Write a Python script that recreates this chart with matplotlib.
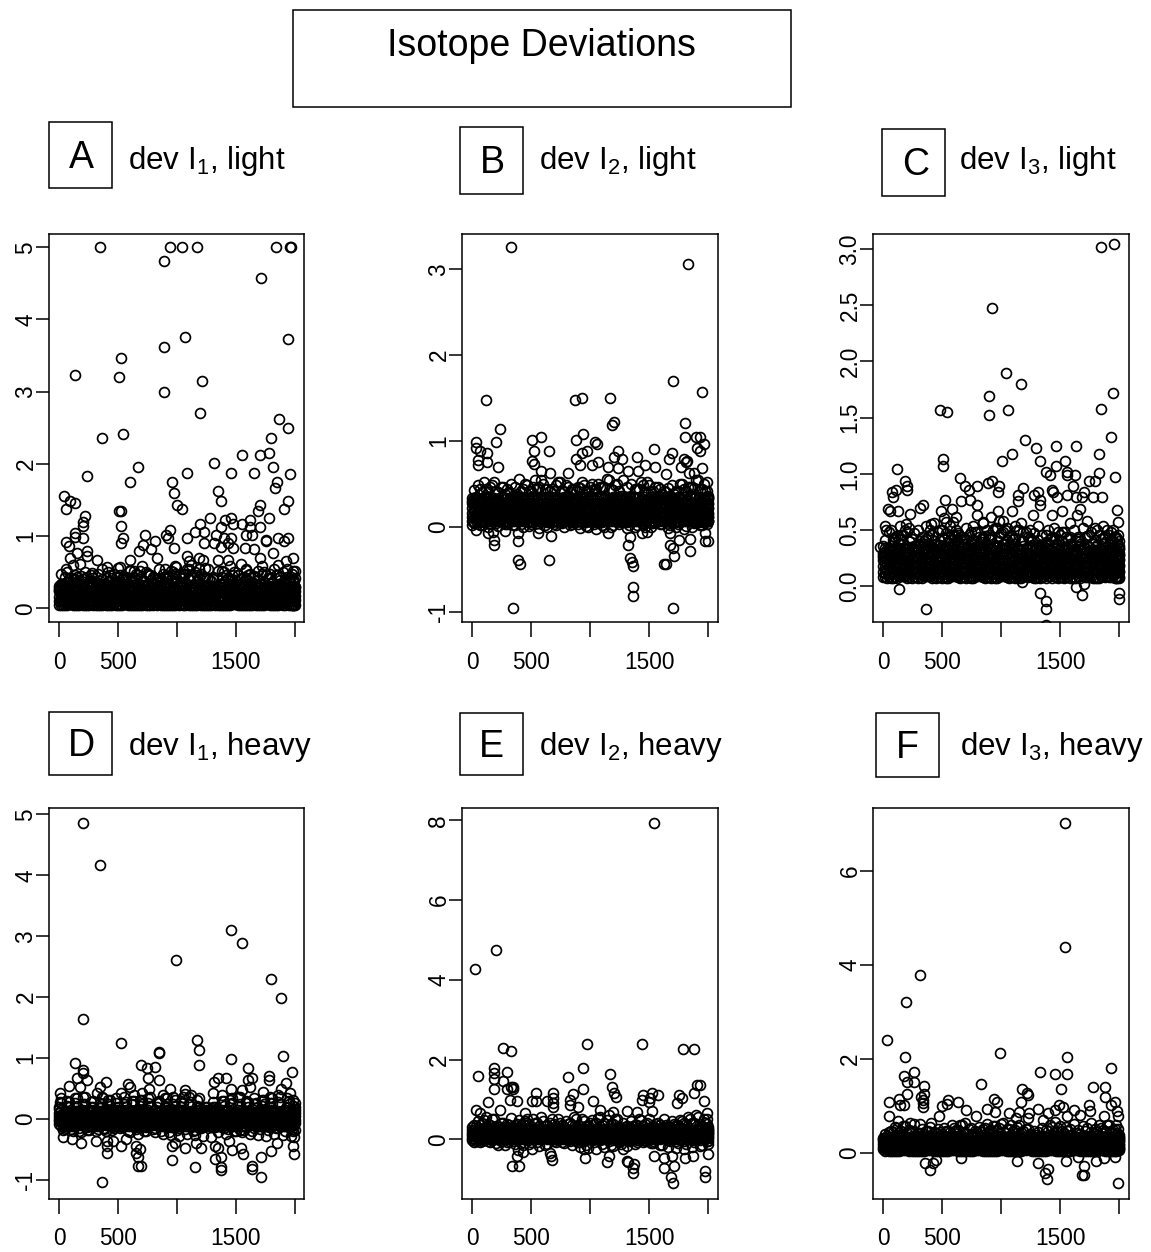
import matplotlib
matplotlib.use("Agg")
import matplotlib.pyplot as plt
from matplotlib.patches import Rectangle

plt.rcParams['font.family'] = ['Liberation Sans', 'DejaVu Sans']
plt.rcParams['mathtext.fontset'] = 'custom'
plt.rcParams['mathtext.rm'] = 'Liberation Sans'
plt.rcParams['mathtext.default'] = 'regular'

X_EVEN = [0,69,138,207,276,345,414,483,552,621,690,759,828,897,966,1035,1104,1173,1242,1311,1380,1449,1518,1587,1656,1725,1794,1863,1932,2000]
X_ODD = [35,104,173,242,311,380,449,518,587,656,725,794,863,932,1001,1070,1139,1208,1277,1346,1415,1484,1553,1622,1691,1760,1829,1898,1967,1996]
X_C = [17,86,155,224,293,362,431,500,569,638,707,776,845,914,983,1052,1121,1190,1259,1328,1397,1466,1535,1604,1673,1742,1811,1880,1949,1985]
X_D = [52,121,190,259,328,397,466,535,604,673,742,811,880,949,1018,1087,1156,1225,1294,1363,1432,1501,1570,1639,1708,1777,1846,1915,1975,1990]

A_BAND = [
 [.05,.04,.05,.04,.06,.05,.04,.05,.06,.04,.05,.04,.05,.05,.04,.06,.05,.04,.05,.06,.04,.05,.05,.04,.06,.05,.04,.05,.06,.05],
 [.10,.11,.09,.12,.10,.09,.11,.12,.10,.09,.11,.10,.12,.09,.11,.10,.12,.09,.11,.10,.12,.09,.11,.12,.10,.11,.09,.12,.10,.11],
 [.16,.15,.17,.15,.18,.16,.15,.17,.16,.18,.15,.17,.16,.15,.18,.16,.17,.15,.18,.16,.15,.17,.18,.16,.15,.17,.18,.16,.15,.17],
 [.24,.22,.25,.21,.23,.22,.24,.21,.23,.25,.22,.24,.21,.23,.25,.22,.24,.23,.21,.25,.22,.24,.25,.22,.24,.26,.23,.25,.22,.24],
 [.31,.30,.29,.28,.31,.30,.28,.29,.31,.30,.29,.31,.28,.30,.29,.31,.30,.32,.29,.31,.33,.30,.32,.31,.34,.32,.31,.33,.32,.30],
]
A_FRINGE = [
 [.28,.36,.40,.33,.38,.34,.37,.35,.39,.36,.40,.34,.41,.37,.42,.36,.40,.38,.43,.40,.44,.38,.46,.42,.45,.48,.42,.46,.44,.30],
 [.34,.42,.38,.44,.36,.30,.42,.46,.35,.48,.38,.44,.40,.45,.36,.47,.42,.48,.41,.52,.46,.50,.42,.48,.52,.46,.55,.50,.44,.38],
 [.26,.50,.46,.40,.46,.38,.50,.36,.44,.40,.52,.48,.36,.44,.50,.42,.54,.46,.56,.44,.52,.58,.46,.54,.44,.58,.48,.60,.54,.42],
]
B_BAND = [
 [.06,.05,.07,.06,.05,.06,.07,.05,.06,.07,.06,.05,.07,.06,.05,.07,.05,.06,.07,.05,.06,.07,.05,.06,.07,.05,.06,.07,.05,.06],
 [.11,.12,.10,.12,.11,.10,.12,.11,.10,.12,.11,.12,.10,.11,.12,.10,.11,.12,.10,.11,.12,.10,.11,.12,.10,.11,.12,.10,.12,.11],
 [.16,.17,.15,.18,.16,.17,.15,.18,.17,.16,.18,.15,.17,.16,.18,.17,.15,.18,.16,.17,.15,.18,.16,.17,.18,.15,.17,.16,.18,.15],
 [.22,.21,.23,.20,.22,.21,.23,.22,.20,.23,.21,.22,.23,.21,.20,.22,.23,.21,.22,.20,.23,.21,.22,.23,.20,.22,.21,.23,.20,.22],
 [.28,.26,.27,.28,.26,.27,.25,.28,.27,.26,.28,.27,.26,.28,.27,.25,.28,.26,.27,.28,.26,.27,.28,.26,.27,.28,.26,.27,.28,.26],
 [.33,.32,.34,.31,.33,.32,.34,.33,.31,.34,.32,.33,.35,.32,.34,.33,.35,.32,.34,.33,.35,.32,.34,.33,.35,.32,.34,.33,.35,.32],
]
B_FRINGE = [
 [.30,.44,.40,.42,.38,.36,.42,.41,.45,.44,.42,.43,.40,.46,.40,.44,.46,.44,.42,.46,.44,.48,.40,.44,.45,.42,.44,.46,.43,.36],
 [.34,.52,.48,.46,.40,.38,.50,.46,.54,.42,.52,.48,.44,.52,.46,.50,.56,.48,.54,.50,.44,.52,.46,.42,.48,.50,.46,.54,.50,.34],
 [.02,.02,.00,.04,.03,.02,.03,.01,.04,.02,.03,.04,.02,.03,.01,.03,.02,.00,.03,-.02,-.01,.02,.00,.03,-.02,.00,-.03,-.01,.02,.06],
]
C_BAND = [
 [.08,.07,.09,.07,.08,.09,.07,.08,.07,.09,.08,.07,.09,.08,.07,.09,.08,.07,.09,.08,.07,.09,.08,.07,.09,.08,.07,.09,.08,.07],
 [.13,.12,.14,.13,.12,.14,.13,.12,.14,.13,.12,.14,.13,.12,.14,.13,.12,.14,.13,.12,.14,.13,.12,.14,.13,.12,.14,.13,.12,.14],
 [.18,.17,.19,.18,.17,.19,.18,.17,.19,.18,.17,.19,.18,.17,.19,.18,.17,.19,.18,.17,.19,.18,.17,.19,.18,.17,.19,.18,.17,.19],
 [.23,.22,.24,.23,.22,.24,.23,.22,.24,.23,.22,.24,.23,.22,.24,.23,.22,.24,.23,.22,.24,.23,.22,.24,.23,.22,.24,.23,.22,.24],
 [.28,.27,.26,.28,.27,.29,.28,.27,.29,.28,.30,.27,.29,.28,.30,.29,.28,.30,.29,.31,.28,.30,.29,.31,.30,.28,.31,.29,.30,.28],
 [.30,.33,.31,.30,.32,.33,.31,.34,.32,.33,.35,.32,.34,.33,.35,.34,.36,.33,.35,.37,.34,.36,.35,.38,.36,.37,.35,.38,.34,.33],
]
C_FRINGE = [
 [.26,.36,.38,.34,.36,.38,.35,.37,.39,.40,.38,.41,.39,.42,.40,.38,.42,.40,.43,.41,.39,.42,.40,.44,.42,.45,.41,.43,.40,.34],
 [.30,.44,.46,.42,.40,.44,.38,.42,.46,.44,.46,.48,.45,.50,.47,.44,.50,.48,.47,.46,.42,.48,.44,.50,.52,.48,.46,.50,.44,.36],
 [.36,.50,.42,.48,.36,.40,.46,.50,.44,.50,.42,.54,.42,.46,.52,.50,.42,.56,.50,.54,.46,.52,.48,.56,.44,.58,.52,.54,.48,.40],
]
D_BAND = [
 [-.08,-.11,-.12,-.10,-.12,-.11,-.10,-.12,-.11,-.10,-.12,-.11,-.10,-.12,-.11,-.10,-.12,-.11,-.10,-.12,-.13,-.11,-.12,-.13,-.14,-.12,-.13,-.14,-.12,-.18],
 [-.04,-.05,-.06,-.05,-.04,-.06,-.05,-.04,-.06,-.05,-.04,-.06,-.05,-.04,-.06,-.05,-.04,-.06,-.05,-.04,-.06,-.05,-.04,-.06,-.05,-.04,-.06,-.05,-.04,-.06],
 [0,.01,-.01,0,.01,-.01,0,.01,-.01,0,.01,-.01,0,.01,-.01,0,.01,-.01,0,.01,-.01,0,.01,-.01,0,.01,-.01,0,.01,-.01],
 [.05,.06,.07,.05,.06,.07,.05,.06,.07,.05,.06,.07,.05,.06,.07,.05,.06,.07,.05,.06,.07,.05,.06,.07,.05,.06,.07,.05,.06,.05],
 [.10,.12,.13,.14,.11,.13,.12,.14,.12,.13,.11,.14,.12,.13,.11,.14,.12,.13,.10,.13,.15,.12,.14,.13,.15,.12,.14,.13,.12,.10],
]
D_FRINGE = [
 [.16,.22,.26,.24,.20,.18,.24,.26,.25,.24,.22,.26,.20,.22,.24,.20,.25,.22,.14,.20,.30,.24,.22,.26,.24,.22,.26,.28,.20,.14],
 [-.10,-.17,-.20,-.18,-.19,-.16,-.18,-.15,-.19,-.17,-.20,-.16,-.19,-.22,-.18,-.17,-.20,-.15,-.12,-.22,-.24,-.20,-.22,-.25,-.26,-.28,-.24,-.26,-.28,-.30],
 [.20,.30,.34,.36,.28,.26,.32,.34,.36,.30,.32,.34,.28,.34,.36,.30,.36,.32,.20,.28,.40,.32,.36,.30,.34,.32,.36,.40,.34,.20],
]
E_BAND = [
 [.03,.00,.01,.02,.00,.03,.04,.02,.01,.03,.02,.01,.03,.02,.04,.01,.02,.03,.01,.00,.02,.03,.01,.02,-.02,-.05,-.04,-.02,-.03,-.05],
 [.10,.08,.09,.07,.09,.08,.07,.09,.08,.07,.09,.08,.07,.09,.08,.07,.09,.08,.07,.09,.08,.07,.09,.08,.07,.08,.07,.09,.08,.07],
 [.16,.17,.15,.16,.17,.15,.16,.17,.15,.16,.17,.15,.16,.17,.15,.16,.17,.15,.16,.17,.15,.16,.17,.15,.16,.17,.15,.16,.17,.15],
 [.24,.23,.25,.24,.23,.25,.24,.23,.25,.24,.23,.25,.24,.23,.25,.24,.23,.25,.24,.23,.25,.24,.23,.25,.24,.23,.25,.24,.23,.22],
]
E_FRINGE = [
 [.30,.36,.38,.34,.30,.32,.36,.38,.40,.34,.38,.35,.40,.36,.34,.38,.36,.38,.32,.34,.36,.33,.32,.36,.34,.36,.40,.42,.38,.25],
 [.34,.48,.52,.40,.36,.38,.46,.52,.56,.42,.50,.46,.56,.50,.42,.54,.48,.52,.40,.46,.50,.42,.38,.50,.46,.48,.56,.60,.52,.30],
 [-.02,-.08,-.05,-.10,-.14,-.04,-.10,-.12,-.06,-.14,-.05,-.08,-.04,-.08,-.14,-.06,-.12,-.14,-.08,-.18,-.12,-.06,-.10,-.14,-.20,-.22,-.25,-.20,-.18,-.12],
]
F_BAND = [
 [.07,.04,.03,.05,.03,.04,.05,.04,.03,.05,.04,.03,.05,.04,.03,.05,.04,.03,.05,.04,.03,.05,.04,.03,.05,.04,.03,.05,.04,.06],
 [.12,.11,.10,.12,.11,.10,.12,.11,.10,.12,.11,.10,.12,.11,.10,.12,.11,.10,.12,.11,.10,.12,.11,.10,.12,.11,.10,.12,.11,.10],
 [.18,.19,.17,.18,.19,.17,.18,.19,.17,.18,.19,.17,.18,.19,.17,.18,.19,.17,.18,.19,.17,.18,.19,.17,.18,.19,.17,.18,.19,.17],
 [.25,.26,.24,.25,.26,.24,.25,.26,.24,.25,.26,.24,.25,.26,.24,.25,.26,.24,.25,.26,.24,.25,.26,.24,.25,.26,.24,.25,.26,.24],
 [.32,.33,.34,.32,.33,.31,.34,.32,.33,.35,.32,.34,.33,.32,.35,.33,.34,.32,.35,.33,.34,.36,.33,.35,.34,.36,.35,.33,.34,.30],
]
F_FRINGE = [
 [.30,.46,.44,.42,.38,.40,.36,.44,.46,.48,.42,.40,.44,.46,.48,.42,.46,.44,.40,.44,.48,.42,.46,.50,.48,.52,.50,.48,.46,.34],
 [.36,.54,.56,.46,.42,.46,.40,.52,.58,.60,.50,.44,.52,.56,.62,.50,.54,.50,.46,.52,.60,.52,.54,.62,.56,.64,.60,.58,.50,.38],
]

A_PTS = [(347,5),(943,5),(1040,5),(1169,5),(1845,5),(1960,5),(1966,5),(893,4.81),(1718,4.57),(893,3.62),(1073,3.76),(1944,3.73),
 (523,3.47),(508,3.2),(138,3.23),(1215,3.15),(893,2.99),(1201,2.7),(1864,2.62),(1946,2.49),(364,2.36),(540,2.41),(1799,2.36),
 (1709,2.12),(1785,2.15),(1556,2.12),(1314,2.01),(669,1.96),(234,1.83),(605,1.75),(1090,1.88),(1460,1.88),(1655,1.88),(1816,1.96),
 (1960,1.86),(958,1.75),(1847,1.75),(1830,1.67),(975,1.59),(1347,1.62),(1378,1.49),(42,1.56),(56,1.38),(90,1.49),(138,1.46),
 (1005,1.43),(1040,1.38),(1946,1.49),(1910,1.38),(1703,1.43),(1686,1.35),(508,1.35),(523,1.35),(220,1.28),(1282,1.25),(1785,1.25),
 (1412,1.22),(1460,1.25),(1624,1.22),(203,1.2),(203,1.14),(523,1.14),(1201,1.17),(1477,1.17),(1556,1.17),(1703,1.12),(1624,1.12),
 (1378,1.12),(943,1.09),(1153,1.06),(1234,1.05),(138,1.04),(138,.99),(203,.98),(540,.98),(732,1.01),(910,1.01),(926,.98),(1088,.98),
 (1333,1.01),(1398,.98),(1460,.98),(1590,1.01),(1638,1.01),(1859,.98),(1946,.98),(1754,.95),(1760,.93),(56,.92),(523,.91),(813,.93),
 (1234,.91),(1316,.91),(1435,.91),(1910,.93),(715,.88),(85,.86),(977,.83),(1378,.85),(1477,.84),(1576,.83),(1655,.82),(681,.8),
 (780,.82),(234,.8),(1816,.77),(155,.76),(234,.72),(90,.7),(828,.7),(1088,.72),(1186,.7),(1703,.7),(1986,.7),(325,.67),(602,.67),
 (175,.62),(121,.6),(1545,.62),(1105,.65),(1350,.67),(1435,.67),(1223,.67),(1930,.65),(404,.57),(517,.57),(997,.57),(56,.54),
 (277,.49),(602,.53),(898,.54),(1265,.54),(1590,.53),(2000,.52)]
B_PTS = [(331,3.26),(1830,3.06),(1703,1.7),(1946,1.57),(119,1.48),(871,1.48),(931,1.5),(1171,1.5),(1182,1.19),(1202,1.22),(1799,1.21),
 (235,1.14),(585,1.05),(942,1.08),(1799,1.05),(1898,1.05),(1932,1.05),(201,.99),(506,1.01),(37,.99),(877,1.01),(1041,.99),(1061,.96),
 (1966,.96),(37,.92),(1904,.92),(1542,.9),(65,.88),(523,.88),(653,.88),(976,.88),(1236,.88),(928,.86),(1929,.88),(127,.86),(1692,.86),
 (1395,.81),(1202,.81),(877,.79),(1270,.79),(1669,.79),(1791,.79),(51,.78),(504,.77),(127,.75),(1813,.75),(1819,.77),(51,.72),(523,.73),
 (914,.72),(1013,.72),(1069,.75),(1463,.72),(1550,.7),(1154,.7),(1768,.7),(1946,.68),(218,.7),(588,.65),(1324,.65),(1409,.65),(815,.63),
 (659,.63),(1876,.63),(1638,.61),(1239,.68),(1833,.63),
 (37,-.04),(136,-.08),(178,-.06),(283,-.05),(390,-.08),(557,-.08),(668,-.11),(1154,-.08),(1338,-.12),(1443,-.08),(1480,-.06),(1678,-.08),
 (1975,-.07),(187,-.16),(187,-.21),(393,-.17),(1324,-.21),(1678,-.21),(1748,-.16),(1847,-.15),(1975,-.17),(1994,-.17),(1700,-.25),
 (1847,-.28),(1706,-.34),(388,-.39),(410,-.44),(653,-.39),(1338,-.37),(1358,-.41),(1366,-.46),(1627,-.44),(1638,-.44),(1361,-.7),
 (1361,-.81),(345,-.95),(1703,-.95)]
C_PTS = [(1847,3.02),(1960,3.04),(925,2.47),(1041,1.9),(1168,1.8),(897,1.69),(1946,1.72),(897,1.52),(484,1.57),(540,1.55),(1058,1.57),
 (1847,1.58),(1929,1.33),(1202,1.3),(1298,1.23),(1462,1.25),(1638,1.25),(1089,1.18),(1833,1.18),(506,1.13),(506,1.07),(1007,1.11),
 (1330,1.11),(1542,1.11),(119,1.04),(1462,1.07),(1378,1.02),(1556,1.02),(1833,1.01),(1412,.99),(1627,.99),(1556,.99),(1963,.97),
 (184,.94),(654,.96),(891,.92),(925,.94),(1748,.94),(1796,.94),(201,.89),(699,.89),(798,.89),(979,.89),(1607,.89),(1188,.87),(201,.86),
 (730,.86),(113,.86),(79,.84),(976,.84),(1428,.86),(1443,.84),(1315,.84),(1706,.84),(85,.79),(1281,.81),(1556,.81),(1148,.81),(1477,.79),
 (1635,.79),(1683,.79),(1782,.79),(523,.77),(735,.77),(1853,.79),(1329,.77),(665,.76),(339,.72),(798,.72),(1145,.76),(311,.7),(1329,.72),
 (42,.69),(588,.69),(1669,.69),(62,.67),(127,.67),(489,.67),(976,.67),(1089,.67),(1513,.67),(1980,.68),(232,.64),(798,.63),(622,.62),
 (919,.62),(515,.61),(1273,.63),(1428,.63),(1641,.63),(537,.57),(594,.57),(1013,.58),(1994,.57),(849,.57),(410,.55),(198,.55),(28,.5),
 (141,.54),(362,.54),(636,.47),(-23,.35),
 (133,-.02),(1635,-.01),(1706,.02),(1174,.04),(1329,-.06),(1689,-.08),(1380,-.13),(362,-.2),(1380,-.2),(1997,-.06),(1997,-.11),(1378,-.345)]
D_PTS = [(200,4.86),(347,4.17),(1458,3.11),(1556,2.89),(992,2.61),(1799,2.3),(1881,1.99),(200,1.64),(523,1.24),(1169,1.3),(1186,1.14),
 (1186,.89),(1898,1.04),(1458,.99),(847,1.1),(847,1.08),(138,.92),(700,.89),(815,.86),(1604,.83),(743,.83),(200,.8),(206,.76),(1980,.77),
 (155,.67),(234,.64),(754,.68),(847,.64),(1314,.61),(1350,.68),(1421,.67),(1604,.64),(1638,.67),(1785,.71),(1785,.64),(395,.61),(588,.57),
 (88,.55),(1930,.59),(602,.52),(347,.52),(178,.52),(1463,.49),(946,.49),(1073,.48),(763,.49),(1619,.52),(1881,.5),(8,.42),(325,.42),
 (523,.42),(703,.43),(884,.39),(1311,.42),(1556,.48),(1732,.45),(1960,.42),(1068,.41),(377,.34),(2000,.27),(8,.28),
 (37,-.3),(107,-.33),(186,-.39),(314,-.36),(404,-.36),(460,-.36),(523,-.45),(573,-.33),(410,-.45),(410,-.55),(652,-.45),(686,-.5),(658,-.56),
 (672,-.62),(672,-.77),(692,-.77),(960,-.45),(983,-.4),(1073,-.48),(960,-.67),(1153,-.79),(1167,-.4),(1203,-.48),(1322,-.45),(1350,-.48),
 (1322,-.66),(1378,-.62),(1378,-.78),(1378,-.84),(1441,-.36),(1469,-.51),(1548,-.48),(1562,-.57),(1638,-.77),(1638,-.82),(1718,-.95),
 (1718,-.62),(1802,-.52),(362,-1.04),(1992,-.57),(1986,-.45),(1850,-.4)]
E_PTS = [(1542,7.94),(201,4.74),(23,4.26),(970,2.4),(1443,2.4),(263,2.3),(331,2.21),(1785,2.26),(1881,2.26),(184,1.79),(942,1.79),(184,1.66),
 (184,1.5),(297,1.68),(1168,1.64),(51,1.59),(815,1.55),(263,1.45),(1182,1.3),(1904,1.35),(1926,1.35),(184,1.25),(297,1.25),(331,1.32),
 (348,1.32),(348,1.25),(942,1.25),(540,1.15),(851,1.13),(687,1.15),(1202,1.15),(1522,1.15),(1578,1.1),(1876,1.15),(1748,1.12),(1446,1.12),
 (687,1.03),(1219,1.05),(1776,1.03),(1508,1.03),(136,.93),(320,.99),(382,.95),(504,.97),(540,.95),(631,.95),(687,.9),(826,.99),(826,.86),
 (1021,.96),(1443,.99),(1502,.94),(1734,.92),(1966,.96),(687,.8),(900,.82),(37,.74),(235,.74),(1310,.72),(1525,.72),(1083,.74),(1395,.69),
 (1987,.67),(447,.67),(1196,.69),(65,.67),
 (390,-.27),(433,-.33),(382,-.43),(337,-.66),(399,-.66),(504,-.25),(659,-.35),(667,-.43),(673,-.53),(947,-.25),(959,-.48),(1160,-.42),
 (1140,-.56),(1310,-.54),(1324,-.56),(1372,-.62),(1366,-.73),(1366,-.85),(1542,-.42),(1621,-.48),(1621,-.71),(1692,-.43),(1706,-.66),
 (1686,-.94),(1703,-1.09),(1799,-.48),(1870,-.43),(1994,-.37),(1975,-.79),(1975,-.95),(1282,-.25)]
F_PTS = [(1542,7.03),(1542,4.39),(311,3.79),(198,3.22),(37,2.4),(990,2.12),(184,2.04),(1556,2.04),(1929,1.8),(1329,1.71),(266,1.71),(1457,1.67),
 (1556,1.67),(175,1.63),(204,1.51),(266,1.51),(832,1.47),(348,1.43),(1782,1.39),(1881,1.39),(1182,1.35),(1508,1.35),(1219,1.28),(204,1.26),
 (348,1.26),(1230,1.23),(1881,1.18),(133,1.15),(325,1.19),(339,1.12),(939,1.15),(51,1.07),(552,1.12),(339,1.05),(636,1.07),(962,1.07),
 (1168,1.07),(1963,1.07),(141,1.02),(175,1.02),(498,.99),(546,1.03),(339,.97),(1493,1.02),(1522,.98),(1748,1.02),(1929,1.02),(707,.92),
 (878,.94),(1315,.94),(1457,.91),(1980,.89),(948,.87),(1618,.91),(1754,.89),(1069,.85),(1151,.87),(1236,.85),(1395,.84),(51,.78),(475,.78),
 (1994,.78),(1556,.78),(792,.78),(1669,.8),(127,.68),(229,.64),(405,.64),(311,.62),(693,.64),(1225,.73),(1354,.7),(1454,.66),(1131,.73),(1870,.78),
 (662,-.12),(1137,-.17),(1315,-.21),(1547,-.17),(1649,-.1),(1805,-.17),(1875,-.12),(1966,-.1),(453,-.16),(424,-.21),(354,-.23),(396,-.37),
 (1397,-.35),(1369,-.44),(1391,-.56),(1706,-.28),(1683,-.48),(1706,-.48),(1994,-.64)]

X_TICKS = [0, 500, 1000, 1500, 2000]
X_LABELS = ['0', '500', '', '1500', '']
A_TICKS = [0, 1, 2, 3, 4, 5]
B_TICKS = [-1, 0, 1, 2, 3]
C_TICKS = [0.0, 0.5, 1.0, 1.5, 2.0, 2.5, 3.0]
D_TICKS = [-1, 0, 1, 2, 3, 4, 5]
E_TICKS = [0, 2, 4, 6, 8]
F_TICKS = [0, 2, 4, 6]
C_LABELS = ['0.0', '0.5', '1.0', '1.5', '2.0', '2.5', '3.0']

W, H = 1151, 1252
fig = plt.figure(figsize=(W / 100, H / 100), dpi=100, facecolor='white')
RING = dict(linestyle='none', marker='o', ms=7.1, mfc='none', mec='black', mew=1.25)

def rect(x0, x1, y0, y1):
    return [x0 / W, 1 - y1 / H, (x1 - x0) / W, (y1 - y0) / H]

def panel(box, ylim, ticks, labels, pts, band, fringe):
    ax = fig.add_axes(rect(*box))
    for row in band:
        ax.plot(X_EVEN, row, **RING)
        ax.plot(X_ODD, row[::-1], **RING)
        ax.plot(X_C, row[7:] + row[:7], **RING)
        ax.plot(X_D, row[13:] + row[:13], **RING)
    for i, row in enumerate(fringe):
        ax.plot(X_EVEN if i % 2 == 0 else X_ODD, row, **RING)
        ax.plot(X_C if i % 2 == 0 else X_D, row[11:] + row[:11], **RING)
    ax.plot([p[0] for p in pts], [p[1] for p in pts], **RING)
    ax.set_xlim(-82, 2082)
    ax.set_ylim(*ylim)
    ax.set_xticks(X_TICKS)
    ax.set_xticklabels(X_LABELS, fontsize=16.3)
    ax.set_yticks(ticks)
    ax.set_yticklabels(labels, fontsize=16.3, rotation=90, va='center')
    ax.tick_params(axis='x', length=10.5, width=1.1, pad=10)
    ax.tick_params(axis='y', length=9.5, width=1.1, pad=-1)
    for s in ax.spines.values():
        s.set_linewidth(1.1)

R1, R2 = (233.5, 622.3), (808.3, 1199)
panel((49.3, 304.3, *R1), (-.194, 5.19), A_TICKS, [str(t) for t in A_TICKS], A_PTS, A_BAND, A_FRINGE)
panel((462.3, 718, *R1), (-1.117, 3.42), B_TICKS, [str(t) for t in B_TICKS], B_PTS, B_BAND, B_FRINGE)
panel((873.3, 1128.7, *R1), (-.32, 3.136), C_TICKS, C_LABELS, C_PTS, C_BAND, C_FRINGE)
panel((49.3, 304.3, *R2), (-1.313, 5.10), D_TICKS, [str(t) for t in D_TICKS], D_PTS, D_BAND, D_FRINGE)
panel((462.3, 718, *R2), (-1.497, 8.30), E_TICKS, [str(t) for t in E_TICKS], E_PTS, E_BAND, E_FRINGE)
panel((873.3, 1128.7, *R2), (-.987, 7.34), F_TICKS, [str(t) for t in F_TICKS], F_PTS, F_BAND, F_FRINGE)

def box(x0, x1, y0, y1):
    fig.add_artist(Rectangle((x0 / W, 1 - y1 / H), (x1 - x0) / W, (y1 - y0) / H,
                             transform=fig.transFigure, fill=False, ec='black', lw=1.1))

def label(x, y, s, size, ha='center'):
    fig.text(x / W, 1 - (y + 3) / H, s, fontsize=size, ha=ha, va='center', color='black')

box(293, 791, 10, 107)
label(541, 43, 'Isotope Deviations', 27)
for (x0, x1, y0, y1, lx, ly, letter) in [(49, 112, 122, 188, 81, 155, 'A'), (460, 523, 127, 194, 492, 160, 'B'),
                                         (882, 945, 129, 196, 916, 162, 'C'), (49, 112, 712, 775, 81, 743, 'D'),
                                         (460, 523, 713, 775, 491, 744, 'E'), (876, 939, 713, 777, 907, 745, 'F')]:
    box(x0, x1, y0, y1)
    label(lx, ly, letter, 27)
for (x, y, s) in [(128, 158, 'dev I$_1$, light'), (539, 158, 'dev I$_2$, light'), (959, 158, 'dev I$_3$, light'),
                  (128, 744, 'dev I$_1$, heavy'), (539, 744, 'dev I$_2$, heavy'), (960, 744, 'dev I$_3$, heavy')]:
    label(x, y, s, 22.5, ha='left')

fig.savefig('out.png', dpi=100)
